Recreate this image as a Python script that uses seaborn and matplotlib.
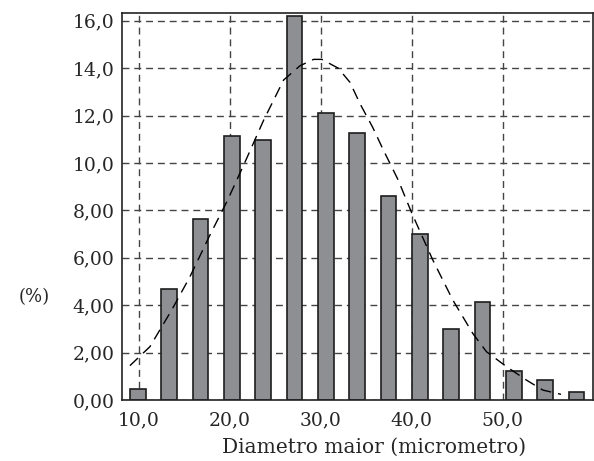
import matplotlib
matplotlib.use("Agg")
import matplotlib.pyplot as plt
import seaborn as sns

# histogram classes (centre of each class) and percentage per class
bin_centers = [9.87, 13.32, 16.76, 20.21, 23.65, 27.10, 30.54, 33.99,
               37.43, 40.88, 44.32, 47.77, 51.21, 54.66, 58.10]
percent = [0.47, 4.67, 7.64, 11.14, 10.97, 16.2, 12.12, 11.28,
           8.62, 6.99, 2.98, 4.13, 1.21, 0.84, 0.35]

# fitted curve
curve_x = [9.0, 11.2, 13.6, 15.6, 17.8, 19.7, 21.6, 23.7, 25.9, 27.7, 29.2,
           30.1, 31.9, 33.2, 34.3, 35.7, 36.8, 38.5, 40.0, 42.3, 44.5, 46.7,
           48.2, 50.4, 52.6, 54.4, 56.4]
curve_y = [1.45, 2.25, 3.8, 5.2, 6.96, 8.4, 9.99, 11.8, 13.5, 14.1, 14.37,
           14.37, 14.0, 13.4, 12.5, 11.5, 10.6, 9.28, 7.88, 5.91, 4.22, 2.81,
           2.04, 1.41, 0.84, 0.42, 0.24]

x_ticks = [10, 20, 30, 40, 50]
x_tick_labels = ["10,0", "20,0", "30,0", "40,0", "50,0"]
y_ticks = [0, 2, 4, 6, 8, 10, 12, 14, 16]
y_tick_labels = ["0,00", "2,00", "4,00", "6,00", "8,00", "10,0", "12,0", "14,0", "16,0"]

sns.set_style("white")
plt.rcParams["font.family"] = ["DejaVu Serif"]

fig = plt.figure(figsize=(5.94, 4.61), dpi=100)
ax = fig.add_axes([0.2054, 0.1323, 0.7926, 0.8402])

sns.barplot(x=bin_centers, y=percent, native_scale=True, width=0.5,
            color="#8e8f93", saturation=1, edgecolor="#1e1e1e",
            linewidth=1.2, ax=ax, zorder=2)
sns.lineplot(x=curve_x, y=curve_y, color="black", linewidth=1.0,
             ax=ax, zorder=3, sort=False)
ax.lines[-1].set_dashes((8, 5))

ax.set_xlim(8.13, 59.9)
ax.set_ylim(0, 16.34)

ax.set_xticks(x_ticks)
ax.set_xticklabels(x_tick_labels, fontsize=13.5)
ax.set_yticks(y_ticks)
ax.set_yticklabels(y_tick_labels, fontsize=13.5)

# small inward ticks on the class limits
half = (bin_centers[1] - bin_centers[0]) / 2
edges = [c + half for c in bin_centers[:-1]]
ax.set_xticks(edges, minor=True)
ax.tick_params(axis="x", which="major", length=0, pad=8)
ax.tick_params(axis="x", which="minor", direction="in", length=4,
               width=1, color="#333333")
ax.tick_params(axis="y", which="major", direction="out", length=5,
               width=1, color="#333333", pad=0.5)

ax.set_axisbelow(True)
ax.grid(True, which="major", linestyle=(0, (5, 3.5)), color="#444444",
        linewidth=1.0)

for sp in ax.spines.values():
    sp.set_visible(True)
    sp.set_color("#222222")
    sp.set_linewidth(1.2)

ax.set_xlabel("Diametro maior (micrometro)", fontsize=14.5, va="center")
ax.xaxis.set_label_coords(0.535, -0.121)
ax.set_ylabel("(%)", fontsize=13, rotation=0, va="center", ha="center")
ax.yaxis.set_label_coords(-0.187, 0.266)

fig.savefig("out.png", dpi=100)
